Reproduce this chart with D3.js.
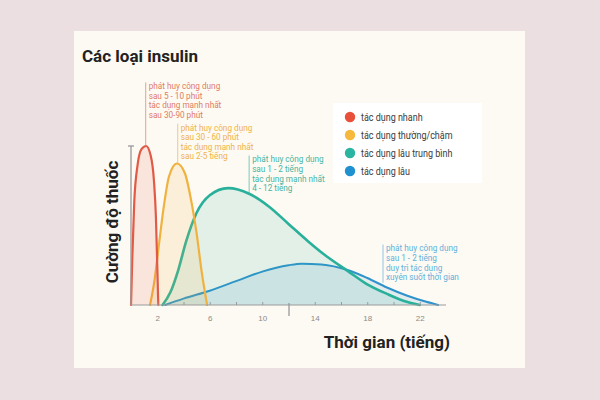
<!DOCTYPE html>
<html>
<head>
<meta charset="utf-8">
<script src="https://cdn.jsdelivr.net/npm/d3@7"></script>
<style>
  body { margin: 0; background: #ecdfe1; }
  svg { display: block; }
</style>
</head>
<body>
<div id="chart"></div>
<script>
// Curves: hours after injection and relative strength (0-100)
const rapidHours = [0, 0.1, 0.25, 0.5, 0.8, 1.15, 1.5, 1.75, 1.9, 2.0, 2.08];
const rapidValues = [0, 30, 65, 88, 98, 100, 94, 78, 55, 25, 0];

const regularHours = [1.45, 1.8, 2.1, 2.5, 2.9, 3.5, 4.1, 4.6, 5.0, 5.4, 5.8];
const regularValues = [0, 16, 36, 62, 81, 89, 83, 65, 45, 20, 0];

const intermediateHours = [2.4, 3.0, 3.6, 4.2, 5.0, 6.0, 7.4, 9.0, 10.5, 12.0, 13.5, 15.0, 16.5, 18.0, 19.5, 21.0, 22.0];
const intermediateValues = [0, 8, 22, 40, 58, 69, 73.5, 70, 62, 51, 40, 30, 21.5, 13, 7, 2, 0];

const longHours = [2.6, 4, 6, 8, 10, 12, 13, 14.5, 16.5, 18, 19.5, 21, 22.5, 23.4];
const longValues = [0, 4, 9, 15, 21, 25, 26, 25.5, 22, 17, 11, 6, 2, 0];

const seriesNames = ['tác dụng nhanh', 'tác dụng thường/chậm', 'tác dụng lâu trung bình', 'tác dụng lâu'];
const seriesColors = ['#e15a47', '#f0b23e', '#29b09b', '#2e93cc'];
const legendDotColors = ['#e8503a', '#f7b83e', '#2bb5a0', '#1f90d0'];

const xTicks = [2, 4, 6, 8, 10, 12, 14, 16, 18, 20, 22];
const xTickLabels = ['2', '6', '10', '14', '18', '22'];

// annotation: hour, top value, bottom value, text lines
const noteHours = [1.12, 3.56, 9.0, 19.2];
const noteTops = [140, 114, 94, 38];
const noteBottoms = [100, 89, 70, 14];
const noteTexts = [
    ['phát huy công dụng', 'sau 5 - 10 phút', 'tác dụng mạnh nhất', 'sau 30-90 phút'],
    ['phát huy công dụng', 'sau 30 - 60 phút', 'tác dụng mạnh nhất', 'sau 2-5 tiếng'],
    ['phát huy công dụng', 'sau 1 - 2 tiếng', 'tác dụng mạnh nhất', '4 - 12 tiếng'],
    ['phát huy công dụng', 'sau 1 - 2 tiếng', 'duy trì tác dụng', 'xuyên suốt thời gian']
];
const noteColors = ['#e07a66', '#f0b24a', '#45b5a5', '#5eb1dc'];

const title = 'Các loại insulin';
const xLabel = 'Thời gian (tiếng)';
const yLabel = 'Cường độ thuốc';

{
    let width = 600, height = 400;

    let svg = d3.select('#chart')
        .append('svg')
        .attr('width', width)
        .attr('height', height)
        .style('font-family', 'Roboto, "Liberation Sans", Arial, sans-serif');

    // card
    svg.append('rect')
        .attr('x', 74).attr('y', 31)
        .attr('width', 451).attr('height', 337)
        .attr('fill', '#fdfaf3');

    let x = d3.scaleLinear().domain([0, 24]).range([131, 446]);
    let y = d3.scaleLinear().domain([0, 100]).range([305, 146]);

    let series = [
        {hours: rapidHours, values: rapidValues},
        {hours: regularHours, values: regularValues},
        {hours: intermediateHours, values: intermediateValues},
        {hours: longHours, values: longValues}
    ].map(function (s, i) {
        return {
            color: seriesColors[i],
            points: s.hours.map(function (h, j) { return [h, s.values[j]]; })
        };
    });

    let line = d3.line()
        .x(function (d) { return x(d[0]); })
        .y(function (d) { return y(d[1]); })
        .curve(d3.curveMonotoneX);

    let area = d3.area()
        .x(function (d) { return x(d[0]); })
        .y0(y(0))
        .y1(function (d) { return y(d[1]); })
        .curve(d3.curveMonotoneX);

    // draw long-acting first so later areas wash over it
    let order = [3, 2, 1, 0];
    let fillOpacity = [0.13, 0.14, 0.12, 0.13];
    let strokeWidth = [2.2, 2.2, 2.6, 2];
    order.forEach(function (i) {
        let s = series[i];
        svg.append('path')
            .datum(s.points)
            .attr('d', area)
            .attr('fill', s.color)
            .attr('fill-opacity', fillOpacity[i]);
        svg.append('path')
            .datum(s.points)
            .attr('d', line)
            .attr('fill', 'none')
            .attr('stroke', s.color)
            .attr('stroke-width', strokeWidth[i])
            .attr('stroke-linecap', 'round');
    });

    // x axis
    let xAxis = svg.append('g')
        .attr('transform', 'translate(0,' + y(0) + ')')
        .call(d3.axisBottom(x)
            .tickValues(xTicks)
            .tickSize(-3)
            .tickPadding(10)
            .tickFormat(function (d) {
                return xTickLabels.indexOf(String(d)) >= 0 ? d : '';
            }));
    xAxis.select('.domain').attr('stroke', '#9a9a9a').attr('d', 'M' + x(0) + ',0H' + x(24));
    xAxis.selectAll('.tick line').attr('stroke', '#9a9a9a');
    xAxis.selectAll('.tick text')
        .attr('fill', '#8a8a8a')
        .style('font-size', '8px');
    xAxis.selectAll('.tick')
        .filter(function (d) { return d === 12; })
        .select('line')
        .attr('y1', -2).attr('y2', 11).attr('stroke-width', 1.3);

    // y axis
    svg.append('line')
        .attr('x1', x(0)).attr('x2', x(0))
        .attr('y1', y(0)).attr('y2', y(100))
        .attr('stroke', '#9a9a9a').attr('stroke-width', 1.3);
    svg.append('line')
        .attr('x1', x(0) - 3).attr('x2', x(0) + 3)
        .attr('y1', y(100)).attr('y2', y(100))
        .attr('stroke', '#9a9a9a').attr('stroke-width', 1.3);

    // annotations
    noteHours.forEach(function (h, i) {
        let top = y(noteTops[i]);
        svg.append('line')
            .attr('x1', x(h)).attr('x2', x(h))
            .attr('y1', top).attr('y2', y(noteBottoms[i]))
            .attr('stroke', noteColors[i])
            .attr('stroke-opacity', 0.7)
            .attr('stroke-width', 1);
        svg.append('g').selectAll('text')
            .data(noteTexts[i])
            .enter()
            .append('text')
            .attr('x', x(h) + 3)
            .attr('y', function (d, j) { return top + 6.8 + j * 9.6; })
            .attr('fill', noteColors[i])
            .style('font-size', '8.2px')
            .text(function (d) { return d; });
    });

    // legend
    let legend = svg.append('g');
    legend.append('rect')
        .attr('x', 333).attr('y', 103)
        .attr('width', 149).attr('height', 80)
        .attr('fill', '#ffffff');
    seriesNames.forEach(function (name, i) {
        let cy = 117 + i * 18;
        legend.append('circle')
            .attr('cx', 350).attr('cy', cy).attr('r', 5.2)
            .attr('fill', legendDotColors[i]);
        legend.append('text')
            .attr('transform', 'translate(361,' + (cy + 4.3) + ') scale(0.88,1)')
            .attr('fill', '#3a3a3a')
            .style('font-size', '10.2px')
            .text(name);
    });

    // titles
    svg.append('text')
        .attr('x', 82).attr('y', 62)
        .attr('fill', '#222')
        .style('font-size', '17px')
        .style('font-weight', 'bold')
        .text(title);

    svg.append('text')
        .attr('x', 450).attr('y', 348)
        .attr('text-anchor', 'end')
        .attr('fill', '#222')
        .style('font-size', '17px')
        .style('font-weight', 'bold')
        .text(xLabel);

    svg.append('text')
        .attr('transform', 'translate(118,222) rotate(-90)')
        .attr('text-anchor', 'middle')
        .attr('fill', '#222')
        .style('font-size', '17px')
        .style('font-weight', 'bold')
        .text(yLabel);
}
</script>
</body>
</html>
